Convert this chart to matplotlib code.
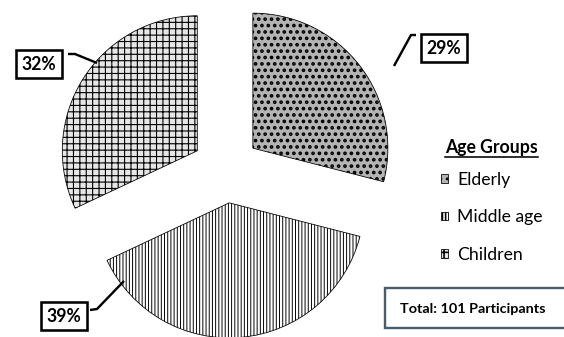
import matplotlib
matplotlib.use('Agg')
import matplotlib.pyplot as plt
from matplotlib.patches import Rectangle

plt.rcParams['font.family'] = ['Lato', 'DejaVu Sans']

# participants by age group (percent)
groups = ['Elderly', 'Middle age', 'Children']
percents = [29, 39, 32]
total = 101

hatches = ['...', '||||||', '+++']
faces = ['#b4b4b4', 'white', '#e6e6e6']
hatch_lw = [1.5, 0.6, 0.7]

H = 337
fig = plt.figure(figsize=(564 / 115, H / 115), dpi=115)
ax = fig.add_axes([0, 0, 1, 1])

wedges, _ = ax.pie(percents, explode=[34] * 3, center=(226, H - 169), radius=135,
                   startangle=90, counterclock=False, frame=True,
                   wedgeprops=dict(edgecolor='black', linewidth=0.5))
for w, h, fc, lw in zip(wedges, hatches, faces, hatch_lw):
    w.set_facecolor(fc)
    w.set_hatch(h)
    if hasattr(w, 'set_hatch_linewidth'):
        w.set_hatch_linewidth(lw)

ax.set_xlim(0, 564)
ax.set_ylim(0, H)
ax.set_aspect('auto')
ax.axis('off')

# percentage call-outs with leader lines
label_pos = [(444, 48), (64, 316), (39, 64)]
leaders = [[(394, 66), (411, 35), (416, 35)],
           [(124, 281), (97, 309), (90, 310)],
           [(97, 63), (75, 54), (68, 54)]]
for p, (x, y), pts in zip(percents, label_pos, leaders):
    xs = [q[0] for q in pts]
    ys = [H - q[1] for q in pts]
    ax.plot(xs, ys, color='black', lw=1.5, solid_capstyle='butt')
    ax.text(x, H - y, f'{p}%', ha='center', va='center', fontsize=11,
            fontweight='bold',
            bbox=dict(boxstyle='square,pad=0.33', fc='white', ec='black', lw=1.6))

# legend
ax.text(491, H - 148, 'Age Groups', ha='center', va='center', fontsize=11,
        fontweight='bold')
ax.plot([445, 538], [H - 157, H - 157], color='black', lw=1.0)
ax.legend(wedges, groups, loc='upper left', bbox_to_anchor=(441 / 564, 1 - 172 / H),
          frameon=False, fontsize=11, handlelength=0.38, handleheight=0.38,
          handletextpad=0.55, labelspacing=1.22, borderpad=0, borderaxespad=0)

# total box
ax.add_patch(Rectangle((385, H - 328), 200, 40, fc='white', ec='#4a5d6b', lw=1.5))
ax.text(400, H - 309, f'Total: {total} Participants', ha='left', va='center',
        fontsize=9, fontweight='bold')

fig.savefig('out.png', dpi=115)
